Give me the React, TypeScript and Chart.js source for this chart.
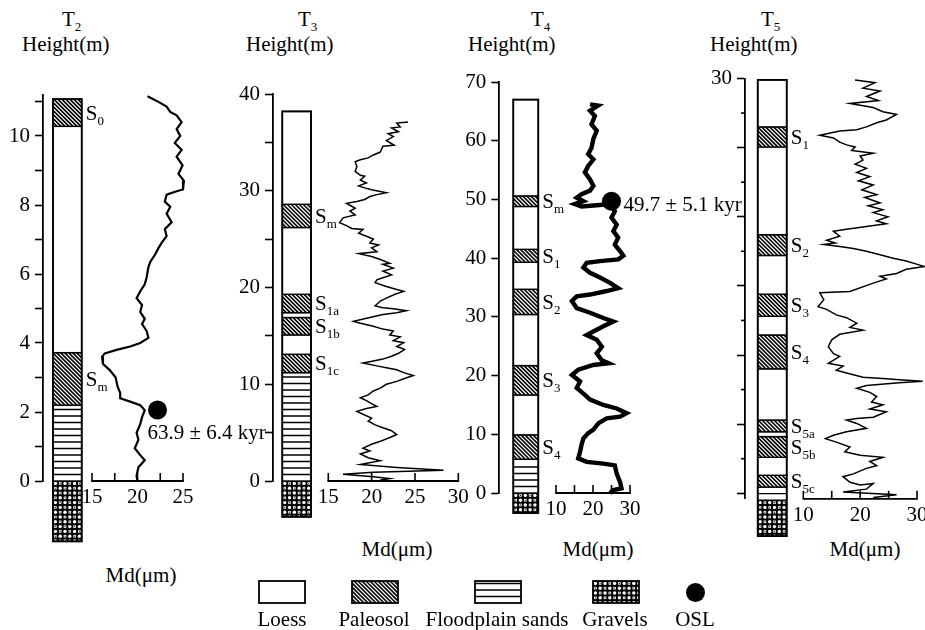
import React, { useEffect, useRef } from 'react';
import { Chart, registerables } from 'chart.js';

Chart.register(...registerables);

const FONT = "'Liberation Serif', 'Times New Roman', Times, serif";
Chart.defaults.font.family = FONT;

// ---------------- T2 ----------------
const t2Md = [21.1, 22.3, 23.2, 23.6, 24.3, 24.85, 24.3, 24.7, 24.1, 24.85, 24.3, 24.95, 24.5, 25.1, 25.0, 24.3, 23.2, 23.0, 23.6, 23.2, 23.75, 23.0, 23.2, 22.65, 22.3, 21.9, 21.4, 21.2, 21.0, 20.8, 20.3, 19.9, 20.5, 20.3, 20.8, 20.5, 21.0, 21.2, 20.3, 19.2, 17.7, 16.4, 16.1, 16.2, 17.0, 17.6, 17.8, 18.1, 18.1, 19.2, 20.3, 20.8, 20.5, 20.3, 19.9, 20.1, 19.7, 20.3, 20.8, 20.1, 19.9, 20.0];
const t2Height = [11.15, 10.99, 10.85, 10.7, 10.6, 10.4, 10.2, 10.0, 9.8, 9.6, 9.4, 9.15, 8.9, 8.7, 8.45, 8.4, 8.3, 8.1, 7.95, 7.75, 7.5, 7.3, 7.1, 6.9, 6.75, 6.55, 6.35, 6.2, 5.9, 5.7, 5.5, 5.3, 5.1, 4.9, 4.7, 4.55, 4.35, 4.15, 4.0, 3.9, 3.8, 3.7, 3.6, 3.4, 3.2, 3.0, 2.75, 2.55, 2.4, 2.3, 2.2, 2.05, 1.85, 1.65, 1.4, 1.2, 0.95, 0.75, 0.6, 0.4, 0.15, 0.0];
const t2YTicks = [0, 1, 2, 3, 4, 5, 6, 7, 8, 9, 10, 11];
const t2YLabels = [0, 2, 4, 6, 8, 10];
const t2XTicks = [15, 17.5, 20, 22.5, 25];
const t2XLabels = [15, 20, 25];
const t2Layers = [
  { from: -1.75, to: 0, kind: 'gravels' },
  { from: 0, to: 2.2, kind: 'sands' },
  { from: 2.2, to: 3.72, kind: 'paleosol', sub: 'm' },
  { from: 3.72, to: 10.28, kind: 'loess' },
  { from: 10.28, to: 11.07, kind: 'paleosol', sub: '0' },
];
const t2Osl = [{ md: 22.2, height: 2.06, age: '63.9 ± 6.4 kyr' }];

// ---------------- T3 ----------------
const t3Md = [24.2, 22.9, 23.3, 22.3, 23.1, 21.9, 22.5, 21.7, 22.6, 21.3, 21.0, 20.2, 19.6, 18.7, 18.1, 18.3, 18.1, 18.7, 19.2, 18.7, 19.4, 18.5, 19.2, 20.0, 21.7, 20.6, 19.8, 19.2, 18.3, 17.1, 17.7, 18.1, 17.5, 18.1, 16.7, 16.3, 17.1, 17.7, 19.0, 18.5, 19.4, 20.2, 19.8, 20.8, 20.0, 20.6, 18.5, 20.0, 21.0, 22.1, 21.3, 22.5, 21.3, 22.3, 21.3, 20.6, 20.4, 21.7, 22.9, 23.7, 22.7, 21.7, 21.0, 20.4, 21.3, 22.5, 24.0, 22.9, 21.3, 19.8, 17.9, 18.7, 20.2, 21.3, 22.5, 22.1, 23.3, 22.5, 23.7, 22.9, 23.8, 23.1, 22.3, 21.3, 20.2, 19.0, 20.6, 21.7, 22.9, 23.7, 24.8, 23.8, 22.9, 21.7, 21.0, 20.2, 19.6, 18.7, 19.4, 20.0, 20.6, 19.4, 18.3, 19.0, 20.0, 19.6, 20.4, 21.3, 22.3, 22.9, 22.1, 21.0, 20.0, 19.0, 19.8, 18.7, 19.6, 21.0, 18.7, 22.9, 28.3, 20.2, 16.7, 20.2, 22.1, 21.0];
const t3Height = [37.1, 37.0, 36.6, 36.5, 36.1, 35.9, 35.6, 35.2, 34.7, 34.6, 34.0, 33.7, 33.4, 33.2, 33.0, 32.5, 32.0, 31.6, 31.5, 31.1, 30.8, 30.5, 30.3, 30.1, 29.8, 29.6, 29.4, 29.1, 28.9, 28.7, 28.4, 28.2, 27.9, 27.5, 27.2, 26.7, 26.4, 26.1, 26.0, 25.6, 25.3, 25.0, 24.6, 24.4, 24.1, 23.7, 23.5, 23.2, 22.9, 22.5, 22.4, 22.0, 21.7, 21.3, 21.0, 20.8, 20.5, 20.1, 19.8, 19.6, 19.3, 18.9, 18.6, 18.1, 17.9, 17.8, 17.6, 17.4, 17.2, 16.9, 16.5, 16.3, 16.0, 15.7, 15.5, 15.1, 14.9, 14.5, 14.3, 13.9, 13.6, 13.2, 12.9, 12.6, 12.4, 12.2, 11.9, 11.7, 11.5, 11.2, 10.9, 10.6, 10.3, 10.0, 9.6, 9.3, 8.9, 8.6, 8.3, 8.0, 7.7, 7.5, 7.2, 6.9, 6.5, 6.2, 5.8, 5.5, 5.2, 4.8, 4.5, 4.1, 3.8, 3.4, 3.1, 2.8, 2.4, 2.1, 1.7, 1.4, 1.1, 0.9, 0.7, 0.45, 0.25, 0.1];
const t3YTicks = [0, 5, 10, 15, 20, 25, 30, 35, 40];
const t3YLabels = [0, 10, 20, 30, 40];
const t3XTicks = [15, 20, 25, 30];
const t3XLabels = [15, 20, 25, 30];
const t3Layers = [
  { from: -3.7, to: 0, kind: 'gravels' },
  { from: 0, to: 11.2, kind: 'sands' },
  { from: 11.2, to: 13.1, kind: 'paleosol', sub: '1c' },
  { from: 13.1, to: 15.1, kind: 'loess' },
  { from: 15.1, to: 16.9, kind: 'paleosol', sub: '1b' },
  { from: 16.9, to: 17.4, kind: 'loess' },
  { from: 17.4, to: 19.3, kind: 'paleosol', sub: '1a' },
  { from: 19.3, to: 26.2, kind: 'loess' },
  { from: 26.2, to: 28.6, kind: 'paleosol', sub: 'm' },
  { from: 28.6, to: 38.2, kind: 'loess' },
];
const t3Osl: { md: number; height: number; age: string }[] = [];

// ---------------- T4 ----------------
const t4Md = [19.2, 21.4, 19.2, 20.5, 19.6, 21.0, 20.1, 19.6, 18.7, 20.1, 18.7, 17.8, 19.2, 20.1, 19.2, 16.9, 15.6, 17.4, 15.1, 16.9, 21.0, 24.6, 25.9, 25.0, 26.4, 25.5, 26.8, 25.9, 27.3, 28.2, 26.8, 21.9, 18.3, 17.4, 19.2, 21.9, 24.6, 26.8, 23.7, 19.2, 15.6, 14.3, 15.6, 19.2, 22.8, 25.5, 22.8, 20.1, 18.3, 21.0, 22.4, 21.0, 22.4, 24.2, 20.1, 16.0, 14.3, 16.5, 15.6, 17.8, 19.2, 22.8, 26.4, 29.1, 27.3, 23.7, 21.5, 20.1, 18.7, 17.4, 16.9, 16.5, 16.0, 18.3, 22.8, 25.9, 26.4, 27.3, 27.7, 25.5, 24.6];
const t4Height = [66.2, 66.0, 65.1, 64.2, 62.8, 61.7, 60.3, 58.8, 57.7, 56.8, 55.7, 54.6, 53.4, 52.3, 51.5, 50.9, 50.3, 49.7, 49.2, 48.8, 49.0, 49.2, 48.0, 46.9, 45.7, 44.6, 43.5, 42.3, 41.2, 40.4, 39.8, 39.5, 39.2, 38.4, 37.5, 36.7, 35.8, 34.9, 34.4, 33.8, 33.5, 32.7, 31.5, 30.7, 29.8, 29.2, 28.4, 27.5, 26.9, 26.1, 24.9, 23.8, 22.6, 22.1, 21.8, 21.0, 20.1, 19.0, 17.9, 16.7, 15.9, 15.0, 14.4, 13.6, 13.0, 12.7, 11.9, 10.8, 10.2, 9.3, 8.2, 7.0, 5.9, 5.3, 5.0, 4.7, 3.3, 1.9, 0.8, 0.5, 0.0];
const t4YTicks = [0, 10, 20, 30, 40, 50, 60, 70];
const t4YLabels = [0, 10, 20, 30, 40, 50, 60, 70];
const t4XTicks = [10, 15, 20, 25, 30];
const t4XLabels = [10, 20, 30];
const t4Layers = [
  { from: -3.4, to: 0, kind: 'gravels' },
  { from: 0, to: 5.75, kind: 'sands' },
  { from: 5.75, to: 9.9, kind: 'paleosol', sub: '4' },
  { from: 9.9, to: 16.7, kind: 'loess' },
  { from: 16.7, to: 21.7, kind: 'paleosol', sub: '3' },
  { from: 21.7, to: 30.4, kind: 'loess' },
  { from: 30.4, to: 34.7, kind: 'paleosol', sub: '2' },
  { from: 34.7, to: 39.3, kind: 'loess' },
  { from: 39.3, to: 41.5, kind: 'paleosol', sub: '1' },
  { from: 41.5, to: 48.8, kind: 'loess' },
  { from: 48.8, to: 50.6, kind: 'paleosol', sub: 'm' },
  { from: 50.6, to: 67.0, kind: 'loess' },
];
const t4Osl = [{ md: 25.0, height: 49.7, age: '49.7 ± 5.1 kyr' }];

// ---------------- T5 ----------------
const t5Md = [19.1, 22.6, 20.5, 23.5, 21.1, 23.2, 18.2, 22.3, 24.0, 26.4, 24.6, 22.9, 21.1, 19.4, 16.4, 12.9, 15.3, 16.4, 17.6, 19.1, 18.5, 22.3, 20.0, 20.5, 19.1, 21.1, 19.4, 21.7, 19.7, 22.3, 20.3, 22.9, 20.8, 23.5, 21.4, 24.0, 22.3, 24.9, 22.9, 24.6, 21.1, 17.6, 15.3, 16.4, 14.1, 15.6, 13.6, 16.4, 18.8, 21.1, 23.5, 25.8, 28.1, 30.5, 31.3, 28.1, 26.4, 23.5, 24.6, 22.3, 18.2, 12.9, 13.6, 12.6, 14.1, 15.8, 17.6, 19.4, 18.2, 20.5, 16.4, 15.0, 14.4, 15.3, 16.4, 14.4, 17.0, 15.8, 17.6, 20.5, 24.0, 27.5, 31.0, 26.9, 21.1, 19.4, 21.7, 22.9, 22.0, 24.0, 21.7, 24.6, 22.3, 19.4, 17.6, 19.4, 21.1, 17.6, 15.3, 13.9, 15.8, 18.2, 17.3, 20.0, 24.0, 21.7, 22.9, 21.1, 18.8, 17.0, 18.2, 20.0, 22.3, 21.1, 17.0, 26.4, 22.3];
const t5Height = [29.9, 29.7, 29.3, 29.1, 28.7, 28.4, 28.2, 27.9, 27.6, 27.4, 27.0, 26.8, 26.5, 26.3, 26.2, 25.9, 25.7, 25.4, 25.2, 25.05, 24.8, 24.6, 24.4, 24.1, 23.8, 23.5, 23.2, 22.9, 22.6, 22.3, 21.95, 21.6, 21.4, 21.0, 20.8, 20.5, 20.3, 20.0, 19.7, 19.5, 19.3, 19.1, 18.95, 18.6, 18.3, 18.1, 18.0, 17.85, 17.7, 17.5, 17.25, 17.0, 16.8, 16.5, 16.4, 16.2, 15.9, 15.7, 15.5, 15.2, 14.6, 14.5, 14.0, 13.5, 13.3, 12.9, 12.7, 12.3, 12.0, 11.8, 11.5, 11.1, 10.6, 10.1, 9.9, 9.4, 9.2, 8.9, 8.7, 8.4, 8.3, 8.2, 8.1, 8.0, 7.8, 7.6, 7.3, 7.0, 6.6, 6.4, 6.1, 5.9, 5.5, 5.4, 5.3, 5.05, 4.7, 4.45, 4.2, 3.95, 3.7, 3.35, 3.0, 2.75, 2.6, 2.3, 2.0, 1.8, 1.4, 1.2, 0.8, 0.6, 0.7, 0.3, 0.1, -0.1, -0.3];
const t5YTicks = [0, 2.5, 5, 7.5, 10, 12.5, 15, 17.5, 20, 22.5, 25, 27.5, 30];
const t5YLabels = [30];
const t5XTicks = [10, 15, 20, 25, 30];
const t5XLabels = [10, 20, 30];
const t5Layers = [
  { from: -3.1, to: -0.5, kind: 'gravels' },
  { from: -0.5, to: 0.45, kind: 'sands' },
  { from: 0.45, to: 1.3, kind: 'paleosol', sub: '5c' },
  { from: 1.3, to: 2.6, kind: 'loess' },
  { from: 2.6, to: 4.1, kind: 'paleosol', sub: '5b' },
  { from: 4.1, to: 4.45, kind: 'loess' },
  { from: 4.45, to: 5.3, kind: 'paleosol', sub: '5a' },
  { from: 5.3, to: 9.0, kind: 'loess' },
  { from: 9.0, to: 11.45, kind: 'paleosol', sub: '4' },
  { from: 11.45, to: 12.8, kind: 'loess' },
  { from: 12.8, to: 14.4, kind: 'paleosol', sub: '3' },
  { from: 14.4, to: 17.2, kind: 'loess' },
  { from: 17.2, to: 18.7, kind: 'paleosol', sub: '2' },
  { from: 18.7, to: 25.05, kind: 'loess' },
  { from: 25.05, to: 26.5, kind: 'paleosol', sub: '1' },
  { from: 26.5, to: 29.9, kind: 'loess' },
];
const t5Osl: { md: number; height: number; age: string }[] = [];

const legendItems = ['Loess', 'Paleosol', 'Floodplain sands', 'Gravels', 'OSL'];

// ---------------- layout (pixels) ----------------
const Y_AXIS_W = 40;
const X_AXIS_H = 30;

const panels = [
  {
    key: 'T2', sub: '2', md: t2Md, height: t2Height, yTicks: t2YTicks, yLabels: t2YLabels, xTicks: t2XTicks, xLabels: t2XLabels,
    layers: t2Layers, osl: t2Osl, lineWidth: 2.2, shortTicks: false,
    yMin: 0, yMax: 11.2, xMin: 9.615, xMax: 25,
    canvas: { left: 0, top: 60, width: 280, height: 520 }, area: { L: 43, T: 94.6, R: 183, B: 481 },
    col: { offset: 10, width: 28.7 }, oslLabel: { dx: -10, dy: 22 },
    title: { left: 62, top: 9 }, hLabel: { left: 22, top: 34 }, mdLabel: { cx: 141, top: 565 },
  },
  {
    key: 'T3', sub: '3', md: t3Md, height: t3Height, yTicks: t3YTicks, yLabels: t3YLabels, xTicks: t3XTicks, xLabels: t3XLabels,
    layers: t3Layers, osl: t3Osl, lineWidth: 1.5, shortTicks: false,
    yMin: 0, yMax: 40, xMin: 8.62, xMax: 30,
    canvas: { left: 230, top: 60, width: 260, height: 520 }, area: { L: 273, T: 94, R: 458.3, B: 481 },
    col: { offset: 9.3, width: 28.7 }, oslLabel: { dx: 0, dy: 0 },
    title: { left: 298, top: 9 }, hLabel: { left: 246, top: 34 }, mdLabel: { cx: 397, top: 539 },
  },
  {
    key: 'T4', sub: '4', md: t4Md, height: t4Height, yTicks: t4YTicks, yLabels: t4YLabels, xTicks: t4XTicks, xLabels: t4XLabels,
    layers: t4Layers, osl: t4Osl, lineWidth: 4.4, shortTicks: false,
    yMin: 0, yMax: 70, xMin: -5.32, xMax: 30,
    canvas: { left: 455, top: 60, width: 320, height: 520 }, area: { L: 499.3, T: 82, R: 630, B: 493 },
    col: { offset: 14, width: 25 }, oslLabel: { dx: 12, dy: 3 },
    title: { left: 531, top: 9 }, hLabel: { left: 468, top: 34 }, mdLabel: { cx: 598, top: 539 },
  },
  {
    key: 'T5', sub: '5', md: t5Md, height: t5Height, yTicks: t5YTicks, yLabels: t5YLabels, xTicks: t5XTicks, xLabels: t5XLabels,
    layers: t5Layers, osl: t5Osl, lineWidth: 1.5, shortTicks: true,
    yMin: -0.4, yMax: 30, xMin: -0.255, xMax: 32,
    canvas: { left: 700, top: 60, width: 300, height: 520 }, area: { L: 745, T: 78.5, R: 928.4, B: 498.8 },
    col: { offset: 12.7, width: 29 }, oslLabel: { dx: 0, dy: 0 },
    title: { left: 761, top: 9 }, hLabel: { left: 710, top: 34 }, mdLabel: { cx: 865, top: 539 },
  },
];

const isMinorTick = (p: any, v: number) => p.shortTicks && Math.abs(v % 5) > 1e-6;

// ---------------- drawing helpers ----------------
function fillLayer(ctx: CanvasRenderingContext2D, kind: string, x: number, y: number, w: number, h: number) {
  ctx.save();
  ctx.beginPath();
  ctx.rect(x, y, w, h);
  ctx.clip();
  ctx.fillStyle = '#fff';
  ctx.fillRect(x, y, w, h);
  ctx.strokeStyle = '#000';
  if (kind === 'paleosol') {
    ctx.lineWidth = 1.6;
    ctx.beginPath();
    for (let t = -h - 4; t < w + 4; t += 4) {
      ctx.moveTo(x + t, y);
      ctx.lineTo(x + t + h, y + h);
    }
    ctx.stroke();
  } else if (kind === 'sands') {
    ctx.lineWidth = 1.3;
    ctx.beginPath();
    for (let yy = y + h - 6.5; yy > y + 2; yy -= 6.5) {
      ctx.moveTo(x, yy);
      ctx.lineTo(x + w, yy);
    }
    ctx.stroke();
  } else if (kind === 'gravels') {
    const s = 4.8;
    ctx.fillStyle = '#000';
    ctx.fillRect(x, y, w, h);
    for (let i = 0; i * s < h + s; i++) {
      for (let j = 0; j * s < w + s; j++) {
        const cx = x + j * s + s / 2;
        const cy = y + i * s + s / 2;
        ctx.fillStyle = '#fff';
        if ((i + j) % 2 === 0) {
          ctx.beginPath();
          ctx.arc(cx, cy, 1.7, 0, Math.PI * 2);
          ctx.fill();
        } else {
          ctx.fillRect(cx - 1.3, cy - 1.3, 2.6, 2.6);
          ctx.fillStyle = '#000';
          ctx.fillRect(cx - 0.5, cy - 0.5, 1, 1);
        }
      }
    }
  }
  ctx.restore();
}

function drawSubText(ctx: CanvasRenderingContext2D, main: string, sub: string, x: number, capCenter: number) {
  const base = capCenter + 7;
  ctx.fillStyle = '#000';
  ctx.textAlign = 'left';
  ctx.textBaseline = 'alphabetic';
  ctx.font = `21px ${FONT}`;
  ctx.fillText(main, x, base);
  const w = ctx.measureText(main).width;
  ctx.font = `13px ${FONT}`;
  ctx.fillText(sub, x + w, base + 5);
}

function makeStrataPlugin(p: any) {
  return {
    id: 'strata' + p.key,
    afterDatasetsDraw(chart: any) {
      const { ctx, chartArea } = chart;
      const xs = chart.scales.x;
      const ys = chart.scales.y;
      ctx.save();
      // short minor ticks on the height axis
      if (p.shortTicks) {
        ctx.strokeStyle = '#000';
        ctx.lineWidth = 1.6;
        for (const v of p.yTicks) {
          if (!isMinorTick(p, v)) continue;
          const py = ys.getPixelForValue(v);
          ctx.beginPath();
          ctx.moveTo(chartArea.left - 4, py);
          ctx.lineTo(chartArea.left, py);
          ctx.stroke();
        }
      }
      // partial x (Md) axis with inward ticks
      const yb = chartArea.bottom;
      const x0 = xs.getPixelForValue(p.xTicks[0]);
      const x1 = xs.getPixelForValue(p.xTicks[p.xTicks.length - 1]);
      ctx.strokeStyle = '#000';
      ctx.lineWidth = 1.8;
      ctx.beginPath();
      ctx.moveTo(x0 - 0.8, yb);
      ctx.lineTo(x1 + 0.8, yb);
      ctx.stroke();
      ctx.lineWidth = 1.6;
      for (const v of p.xTicks) {
        const px = xs.getPixelForValue(v);
        ctx.beginPath();
        ctx.moveTo(px, yb);
        ctx.lineTo(px, yb - 8);
        ctx.stroke();
      }
      // stratigraphic column
      const cl = chartArea.left + p.col.offset;
      const cw = p.col.width;
      for (const layer of p.layers) {
        const top = ys.getPixelForValue(layer.to);
        const bot = ys.getPixelForValue(layer.from);
        fillLayer(ctx, layer.kind, cl, top, cw, bot - top);
        ctx.strokeStyle = '#000';
        ctx.lineWidth = 1.4;
        ctx.strokeRect(cl, top, cw, bot - top);
      }
      const colTop = ys.getPixelForValue(p.layers[p.layers.length - 1].to);
      const colBot = ys.getPixelForValue(p.layers[0].from);
      ctx.lineWidth = 1.8;
      ctx.strokeRect(cl, colTop, cw, colBot - colTop);
      // soil labels
      for (const layer of p.layers) {
        if (!layer.sub) continue;
        const mid = ys.getPixelForValue((layer.from + layer.to) / 2);
        drawSubText(ctx, 'S', layer.sub, cl + cw + 4, mid);
      }
      // OSL ages
      for (const o of p.osl) {
        const px = xs.getPixelForValue(o.md);
        const py = ys.getPixelForValue(o.height);
        ctx.font = `21px ${FONT}`;
        ctx.fillStyle = '#000';
        ctx.textAlign = 'left';
        ctx.textBaseline = 'alphabetic';
        ctx.fillText(o.age, px + p.oslLabel.dx, py + p.oslLabel.dy + 7);
      }
      ctx.restore();
    },
  };
}

function PanelChart({ p }: { p: any }) {
  const ref = useRef<HTMLCanvasElement>(null);
  useEffect(() => {
    const canvas = ref.current;
    if (!canvas) return;
    const { canvas: cb, area } = p;
    const chart = new Chart(canvas, {
      type: 'scatter',
      data: {
        datasets: [
          {
            data: p.osl.map((o: any) => ({ x: o.md, y: o.height })),
            pointRadius: 9.5,
            pointBackgroundColor: '#000',
            pointBorderColor: '#000',
            pointBorderWidth: 0,
            showLine: false,
            clip: false,
          } as any,
          {
            data: p.md.slice(0, Math.min(p.md.length, p.height.length)).map((m: number, i: number) => ({ x: m, y: p.height[i] })),
            showLine: true,
            borderColor: '#000',
            borderWidth: p.lineWidth,
            pointRadius: 0,
            tension: 0,
            clip: false,
            borderJoinStyle: 'miter',
          } as any,
        ],
      },
      options: {
        animation: false,
        responsive: false,
        maintainAspectRatio: false,
        devicePixelRatio: 1,
        events: [],
        layout: {
          padding: {
            left: area.L - cb.left - Y_AXIS_W,
            top: area.T - cb.top,
            right: cb.left + cb.width - area.R,
            bottom: cb.top + cb.height - area.B - X_AXIS_H,
          },
        },
        plugins: { legend: { display: false }, tooltip: { enabled: false }, title: { display: false } },
        scales: {
          x: {
            type: 'linear',
            min: p.xMin,
            max: p.xMax,
            afterFit: (s: any) => { s.height = X_AXIS_H; },
            afterBuildTicks: (s: any) => { s.ticks = p.xTicks.map((v: number) => ({ value: v })); },
            grid: { display: false, drawTicks: false },
            border: { display: false },
            ticks: {
              padding: 4,
              color: '#000',
              autoSkip: false,
              maxRotation: 0,
              font: { family: FONT, size: 21 },
              callback: (v: any) => (p.xLabels.includes(Number(v)) ? String(v) : ''),
            },
          },
          y: {
            type: 'linear',
            min: p.yMin,
            max: p.yMax,
            afterFit: (s: any) => { s.width = Y_AXIS_W; },
            afterBuildTicks: (s: any) => { s.ticks = p.yTicks.map((v: number) => ({ value: v })); },
            grid: {
              display: true,
              drawOnChartArea: false,
              drawTicks: true,
              tickLength: 8,
              tickColor: (c: any) => (c.tick && isMinorTick(p, c.tick.value) ? 'rgba(0,0,0,0)' : '#000'),
              tickWidth: 1.6,
            },
            border: { display: true, color: '#000', width: 1.8 },
            ticks: {
              padding: 5,
              color: '#000',
              autoSkip: false,
              font: { family: FONT, size: 21 },
              callback: (v: any) => (p.yLabels.includes(Number(v)) ? String(v) : ''),
            },
          },
        },
      } as any,
      plugins: [makeStrataPlugin(p)],
    });
    return () => chart.destroy();
  }, [p]);
  return (
    <canvas
      ref={ref}
      width={p.canvas.width}
      height={p.canvas.height}
      style={{ position: 'absolute', left: p.canvas.left, top: p.canvas.top, width: p.canvas.width, height: p.canvas.height }}
    />
  );
}

function Swatch({ kind, left, top }: { kind: string; left: number; top: number }) {
  const ref = useRef<HTMLCanvasElement>(null);
  useEffect(() => {
    const c = ref.current;
    if (!c) return;
    const ctx = c.getContext('2d');
    if (!ctx) return;
    ctx.clearRect(0, 0, c.width, c.height);
    fillLayer(ctx, kind, 1, 1, 46, 22);
    ctx.strokeStyle = '#000';
    ctx.lineWidth = 1.8;
    ctx.strokeRect(1, 1, 46, 22);
  }, [kind]);
  return <canvas ref={ref} width={48} height={24} style={{ position: 'absolute', left, top, width: 48, height: 24 }} />;
}

const textStyle: React.CSSProperties = {
  position: 'absolute',
  fontFamily: FONT,
  fontSize: 21,
  lineHeight: '21px',
  color: '#000',
  whiteSpace: 'nowrap',
};

export default function App() {
  const swatchLeft = [258, 351, 474, 592];
  const labelCenters = [282, 374, 497, 615, 695];
  const kinds = ['loess', 'paleosol', 'sands', 'gravels'];
  return (
    <div style={{ position: 'absolute', left: 0, top: 0, width: 925, height: 630, overflow: 'hidden', background: '#fff' }}>
      {panels.map((p) => (
        <React.Fragment key={p.key}>
          <div style={{ ...textStyle, left: p.title.left, top: p.title.top }}>
            T<span style={{ fontSize: 13, position: 'relative', top: 5 }}>{p.sub}</span>
          </div>
          <div style={{ ...textStyle, left: p.hLabel.left, top: p.hLabel.top }}>Height(m)</div>
          <div style={{ ...textStyle, left: p.mdLabel.cx, top: p.mdLabel.top, transform: 'translateX(-50%)' }}>Md(μm)</div>
        </React.Fragment>
      ))}
      {panels.map((p) => (
        <PanelChart key={p.key} p={p} />
      ))}
      {kinds.map((k, i) => (
        <Swatch key={k} kind={k} left={swatchLeft[i]} top={580} />
      ))}
      <div style={{ position: 'absolute', left: 686, top: 583, width: 19, height: 19, borderRadius: '50%', background: '#000' }} />
      {legendItems.map((t, i) => (
        <div key={t} style={{ ...textStyle, left: labelCenters[i], top: 609, transform: 'translateX(-50%)' }}>{t}</div>
      ))}
    </div>
  );
}
